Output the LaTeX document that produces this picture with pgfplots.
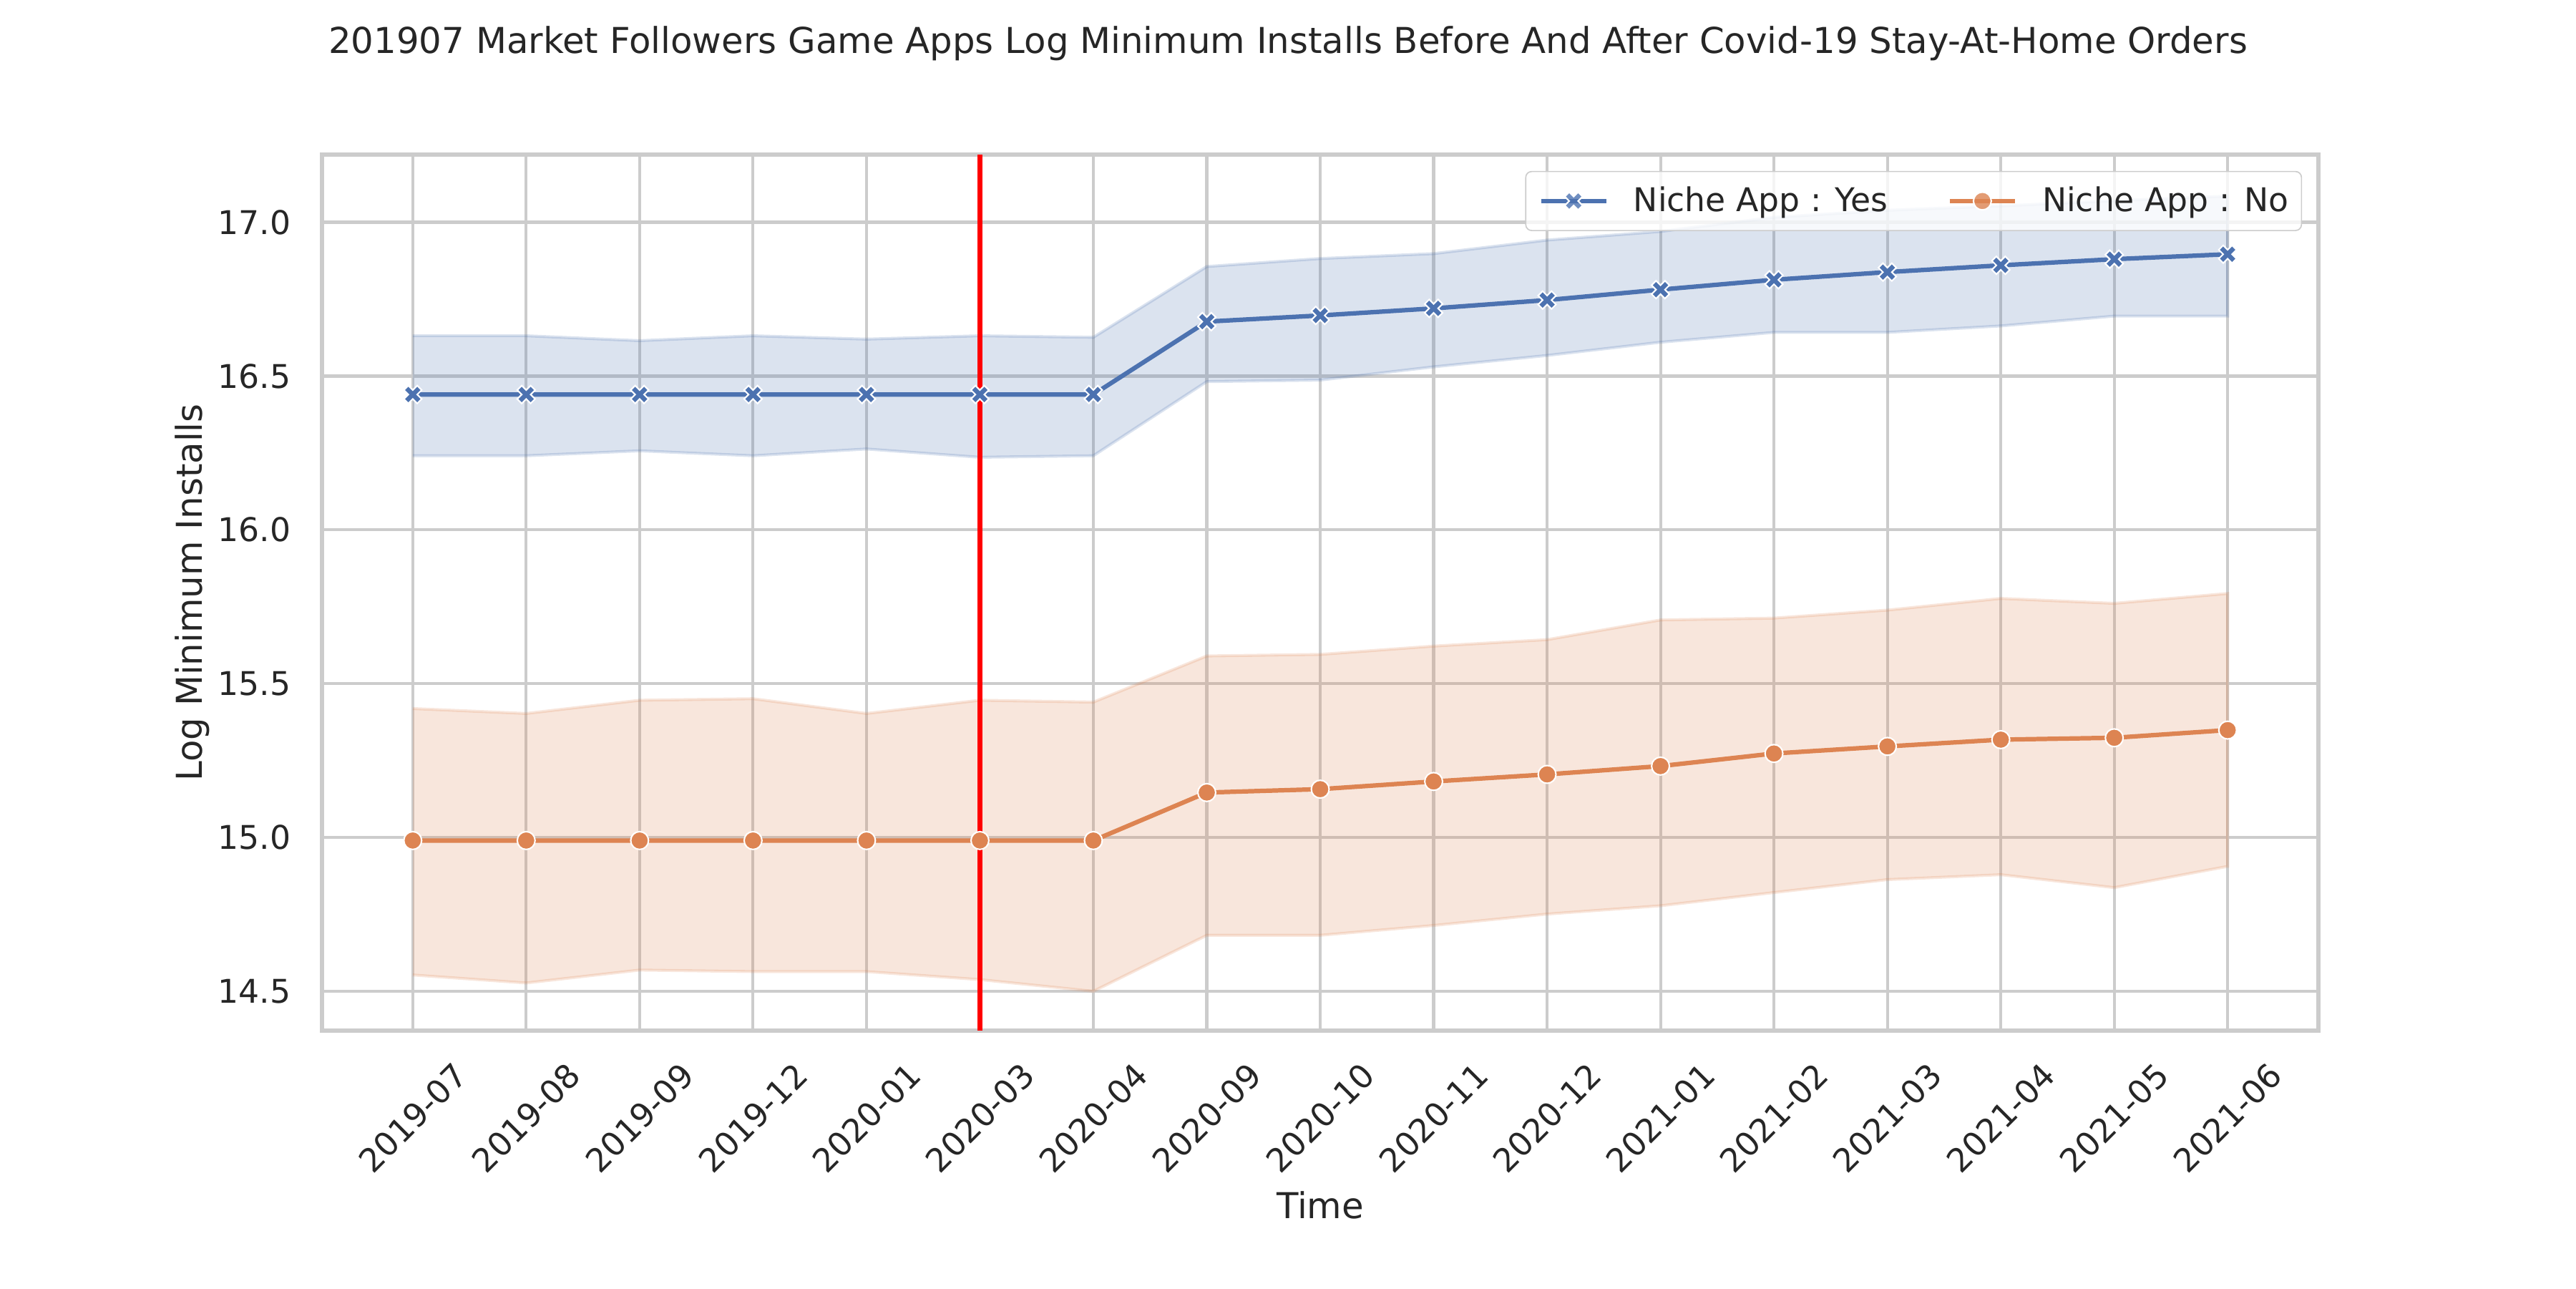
\documentclass[border=0pt]{standalone}
\usepackage{fontspec}
\setmainfont{DejaVu Sans}
\usepackage{pgfplots}
\pgfplotsset{compat=1.18}

\definecolor{sbblue}{HTML}{4C72B0}
\definecolor{sborange}{HTML}{DD8452}
\definecolor{gridgray}{HTML}{CCCCCC}
\definecolor{txt}{HTML}{262626}

% filled X marker (like matplotlib 'X')
\pgfdeclareplotmark{Xfilled}{%
  \pgfpathmoveto{\pgfqpoint{-0.5\pgfplotmarksize}{-\pgfplotmarksize}}%
  \pgfpathlineto{\pgfqpoint{0pt}{-0.5\pgfplotmarksize}}%
  \pgfpathlineto{\pgfqpoint{0.5\pgfplotmarksize}{-\pgfplotmarksize}}%
  \pgfpathlineto{\pgfqpoint{\pgfplotmarksize}{-0.5\pgfplotmarksize}}%
  \pgfpathlineto{\pgfqpoint{0.5\pgfplotmarksize}{0pt}}%
  \pgfpathlineto{\pgfqpoint{\pgfplotmarksize}{0.5\pgfplotmarksize}}%
  \pgfpathlineto{\pgfqpoint{0.5\pgfplotmarksize}{\pgfplotmarksize}}%
  \pgfpathlineto{\pgfqpoint{0pt}{0.5\pgfplotmarksize}}%
  \pgfpathlineto{\pgfqpoint{-0.5\pgfplotmarksize}{\pgfplotmarksize}}%
  \pgfpathlineto{\pgfqpoint{-\pgfplotmarksize}{0.5\pgfplotmarksize}}%
  \pgfpathlineto{\pgfqpoint{-0.5\pgfplotmarksize}{0pt}}%
  \pgfpathlineto{\pgfqpoint{-\pgfplotmarksize}{-0.5\pgfplotmarksize}}%
  \pgfpathclose
  \pgfusepathqfillstroke
}

\begin{document}
\begin{tikzpicture}
\useasboundingbox (0,0) rectangle (12in,6in);
\begin{axis}[
    at={(1.5in,1.2in)}, anchor=south west,
    width=9.3in, height=4.08in, scale only axis,
    xmin=-0.8, xmax=16.8,
    ymin=14.372, ymax=17.22,
    xtick={0,...,16},
    xticklabels={2019-07,2019-08,2019-09,2019-12,2020-01,2020-03,2020-04,2020-09,2020-10,2020-11,2020-12,2021-01,2021-02,2021-03,2021-04,2021-05,2021-06},
    ytick={14.5,15,15.5,16,16.5,17},
    /pgf/number format/assume math mode=true,
    yticklabel style={/pgf/number format/fixed, /pgf/number format/fixed zerofill, /pgf/number format/precision=1,
        font=\fontsize{11}{13}\selectfont, text=txt, anchor=east, inner sep=0pt, xshift=-10.3pt},
    xticklabel style={font=\fontsize{11}{13}\selectfont, text=txt, yshift=-29.4pt, rotate=45, anchor=center},
    major tick length=0pt,
    grid=major,
    grid style={gridgray, line width=1pt},
    axis line style={gridgray, line width=1.25pt},
    xlabel={Time},
    ylabel={Log Minimum Installs},
    xlabel style={at={(axis description cs:0.5,-0.2148)}, anchor=base, font=\fontsize{12}{14}\selectfont, text=txt},
    ylabel style={at={(axis description cs:-0.0602,0.5)}, anchor=base, font=\fontsize{12}{14}\selectfont, text=txt},
    title={201907 Market Followers Game Apps Log Minimum Installs Before And After Covid-19 Stay-At-Home Orders},
    title style={at={(axis description cs:0.4839,1.095)}, anchor=base, font=\fontsize{12}{14}\selectfont, text=txt},
    legend columns=2,
    legend style={at={(rel axis cs:1,1)}, anchor=north east, xshift=-5.5pt, yshift=-5.5pt,
        draw=gridgray, rounded corners=2pt, fill=white, fill opacity=0.8, text opacity=1,
        font=\fontsize{11}{13}\selectfont, text=txt,
        inner xsep=4.4pt, inner ysep=5pt,
        nodes={inner sep=0pt},
        /tikz/every odd column/.style={column sep=8.4pt},
        /tikz/every even column/.style={column sep=20pt}},
    legend cell align=left,
    legend image code/.code={\draw[mark repeat=2,mark phase=2,#1] plot coordinates {(0pt,0pt) (11pt,0pt) (22pt,0pt)};},
]

% blue confidence band: upper 0..16 then lower 16..0
\addplot[fill=sbblue, fill opacity=0.2, draw=sbblue, draw opacity=0.2, line width=1pt, forget plot] coordinates {
    (0,16.631) (1,16.631) (2,16.615) (3,16.631) (4,16.620) (5,16.631) (6,16.626)
    (7,16.856) (8,16.882) (9,16.898) (10,16.942) (11,16.970) (12,17.016) (13,17.039)
    (14,17.053) (15,17.070) (16,17.085)
    (16,16.695) (15,16.695) (14,16.663) (13,16.642) (12,16.642) (11,16.610) (10,16.567)
    (9,16.530) (8,16.487) (7,16.482) (6,16.241) (5,16.236) (4,16.263) (3,16.241)
    (2,16.257) (1,16.241) (0,16.241)
};
\addplot[sbblue, line width=1.5pt, mark=Xfilled, mark size=3pt,
    mark options={fill=sbblue, draw=white, line width=0.5pt}] coordinates {
    (0,16.440) (1,16.440) (2,16.440) (3,16.440) (4,16.440) (5,16.440) (6,16.440)
    (7,16.677) (8,16.697) (9,16.720) (10,16.747) (11,16.781) (12,16.813) (13,16.838)
    (14,16.860) (15,16.880) (16,16.896)
};
\addlegendentry{Niche App : Yes}

% orange confidence band
\addplot[fill=sborange, fill opacity=0.2, draw=sborange, draw opacity=0.2, line width=1pt, forget plot] coordinates {
    (0,15.419) (1,15.403) (2,15.446) (3,15.451) (4,15.403) (5,15.446) (6,15.440)
    (7,15.590) (8,15.595) (9,15.622) (10,15.643) (11,15.707) (12,15.713) (13,15.739)
    (14,15.777) (15,15.761) (16,15.793)
    (16,14.906) (15,14.837) (14,14.879) (13,14.863) (12,14.821) (11,14.778) (10,14.751)
    (9,14.714) (8,14.682) (7,14.682) (6,14.500) (5,14.538) (4,14.564) (3,14.564)
    (2,14.569) (1,14.527) (0,14.553)
};
\addplot[sborange, line width=1.5pt, mark=*, mark size=3pt,
    mark options={fill=sborange, draw=white, line width=0.5pt}] coordinates {
    (0,14.990) (1,14.990) (2,14.990) (3,14.990) (4,14.990) (5,14.990) (6,14.990)
    (7,15.146) (8,15.157) (9,15.182) (10,15.205) (11,15.232) (12,15.273) (13,15.296)
    (14,15.318) (15,15.324) (16,15.349)
};
\addlegendentry{Niche App : No}

% stay-at-home marker
\addplot[red, line width=1.8pt, forget plot] coordinates {(5,14.372) (5,17.22)};

\end{axis}
\end{tikzpicture}
\end{document}
